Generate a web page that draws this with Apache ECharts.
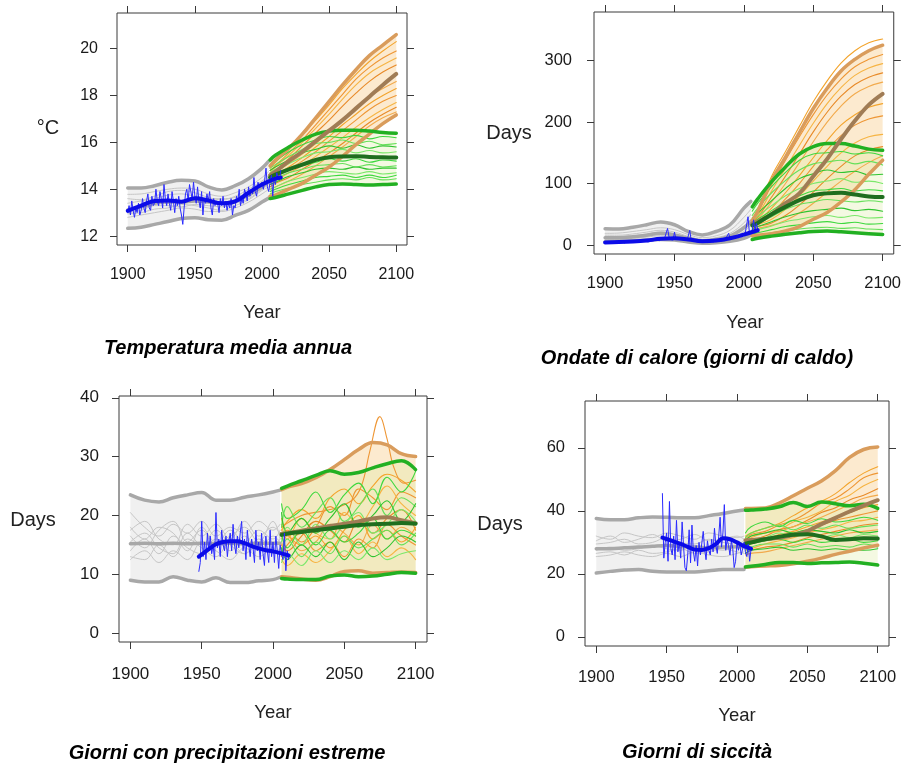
<!DOCTYPE html>
<html>
<head>
<meta charset="utf-8">
<script src="https://cdn.jsdelivr.net/npm/echarts@6/dist/echarts.min.js"></script>
<style>html,body{margin:0;padding:0;background:#fff}#c{width:904px;height:764px}</style>
</head>
<body>
<div id="c"></div>
<script>
// ---------- shared axes ----------
const histYears = [1900,1910,1920,1930,1940,1950,1960,1970,1980,1990,2000,2005];
const projYears = [2006,2010,2020,2030,2040,2050,2060,2070,2080,2090,2100];
const xTicks = [1900,1950,2000,2050,2100];

// ---------- Panel 1: Temperatura media annua (°C) ----------
const tYTicks = [12,14,16,18,20];
const tGreyHi  = [14.05,14.05,14.15,14.3,14.38,14.35,14.1,13.97,14.15,14.45,14.9,15.2];
const tGreyLo  = [12.33,12.38,12.5,12.62,12.75,12.78,12.7,12.68,12.88,13.1,13.45,13.62];
const tGreyMid = [13.12,13.25,13.4,13.45,13.45,13.5,13.45,13.4,13.5,13.75,14.1,14.35];
const tGreyM = [
 [13.78,13.8,13.9,14.0,14.05,14.0,13.8,13.7,13.85,14.1,14.5,14.75],
 [12.8,12.9,13.0,13.1,13.2,13.15,13.05,13.05,13.2,13.45,13.8,14.0],
 [13.4,13.5,13.6,13.75,13.8,13.7,13.6,13.6,13.65,13.9,14.3,14.5],
 [13.0,13.1,13.3,13.3,13.25,13.35,13.3,13.25,13.4,13.6,14.0,14.2],
 [13.6,13.55,13.7,13.9,13.95,13.85,13.65,13.55,13.7,14.0,14.35,14.6],
 [12.95,13.0,13.15,13.2,13.35,13.3,13.2,13.1,13.3,13.55,13.95,14.1]
];
const tObsStart = 1900;
const tObs = [
 13.0,13.3,12.9,13.5,13.1,12.8,13.2,13.0,13.4,12.9,
 13.1,13.6,13.2,13.0,13.5,13.8,13.2,13.1,13.7,13.3,
 13.4,14.0,13.5,13.3,13.9,13.6,13.2,14.2,13.6,13.3,
 13.8,13.4,13.1,13.9,13.5,13.0,13.6,13.3,13.7,13.2,
 12.9,12.5,13.2,13.8,14.0,13.5,14.2,13.9,13.6,14.3,
 13.7,13.4,14.1,13.5,13.2,13.9,12.9,13.6,13.4,13.8,
 13.5,13.9,13.2,12.9,13.6,13.3,13.5,13.4,13.0,13.6,
 13.3,13.7,13.2,13.5,13.1,13.4,13.2,13.6,12.9,13.3,
 13.2,13.7,13.5,14.0,13.3,13.6,13.4,14.0,13.8,13.5,
 14.1,13.7,14.0,13.8,14.5,13.9,13.7,14.3,14.1,14.2,
 14.3,14.0,14.4,14.9,14.1,13.9,14.3,14.6,13.7,14.5,
 14.2,14.7,14.5,14.4,14.8
];
const tObsSmoothYears = [1900,1910,1920,1930,1940,1950,1960,1970,1980,1990,2000,2010,2014];
const tObsSmooth = [13.08,13.3,13.5,13.52,13.47,13.62,13.52,13.4,13.48,13.85,14.2,14.45,14.5];
const tOrHi  = [15.0,15.25,15.75,16.35,17.05,17.75,18.45,19.1,19.7,20.15,20.6];
const tOrMid = [14.6,14.75,15.2,15.6,16.05,16.5,16.95,17.45,17.95,18.45,18.92];
const tOrLo  = [13.7,13.75,14.0,14.25,14.6,14.95,15.4,15.9,16.35,16.8,17.17];
const tOrM = [
 [14.9,15.15,15.7,16.3,16.95,17.6,18.3,18.9,19.45,19.9,20.3],
 [14.8,15.0,15.55,16.1,16.75,17.4,18.05,18.7,19.2,19.6,19.9],
 [14.7,14.95,15.45,16.0,16.6,17.2,17.85,18.45,18.95,19.3,19.6],
 [14.6,14.8,15.3,15.85,16.4,16.95,17.55,18.1,18.6,19.0,19.3],
 [14.5,14.7,15.1,15.5,15.95,16.45,16.95,17.45,17.95,18.3,18.6],
 [14.4,14.6,14.95,15.35,15.8,16.25,16.75,17.2,17.65,18.0,18.3],
 [14.3,14.5,14.85,15.2,15.6,16.05,16.5,16.95,17.4,17.75,18.0],
 [14.2,14.35,14.7,15.0,15.4,15.8,16.2,16.65,17.05,17.4,17.7],
 [14.1,14.25,14.5,14.85,15.2,15.55,15.95,16.4,16.85,17.2,17.5],
 [14.0,14.1,14.35,14.65,15.0,15.4,15.8,16.25,16.7,17.05,17.3]
];
const tGrHi  = [15.25,15.45,15.8,16.1,16.35,16.48,16.52,16.52,16.48,16.42,16.39];
const tGrMid = [14.5,14.62,14.85,15.05,15.25,15.36,15.4,15.41,15.38,15.36,15.35];
const tGrLo  = [13.6,13.65,13.8,13.95,14.1,14.2,14.22,14.2,14.18,14.2,14.22];
const tGrM = [
 [15.0,15.2,15.6,15.9,16.1,16.25,16.2,16.3,16.15,16.25,16.2],
 [14.9,15.05,15.4,15.7,15.95,16.0,16.1,15.95,16.05,15.9,15.95],
 [14.8,14.95,15.25,15.55,15.7,15.85,15.75,15.9,15.75,15.85,15.8],
 [14.7,14.85,15.1,15.35,15.55,15.6,15.7,15.55,15.65,15.55,15.6],
 [14.45,14.6,14.85,15.0,15.15,15.3,15.2,15.3,15.15,15.25,15.2],
 [14.3,14.45,14.7,14.85,15.0,15.05,15.1,14.95,15.05,14.95,15.0],
 [14.2,14.3,14.55,14.7,14.85,14.9,14.85,14.95,14.85,14.9,14.9],
 [14.0,14.1,14.35,14.5,14.65,14.75,14.7,14.65,14.75,14.65,14.7],
 [13.9,14.0,14.2,14.35,14.5,14.55,14.6,14.5,14.6,14.5,14.6],
 [13.8,13.9,14.05,14.2,14.3,14.4,14.45,14.4,14.5,14.4,14.45]
];

// ---------- Panel 2: Ondate di calore (Days) ----------
const hYTicks = [0,100,200,300];
const hGreyHi  = [26.5,26,29,33,37.5,33,22,16.5,22,33,60,71];
const hGreyLo  = [5.4,6,7,8,9,8,5,2.7,3.5,6,11,16];
const hGreyMid = [12,12,13.5,16,19,16.5,11,7,9,14.5,28,38];
const hGreyM = [
 [19,19.5,22,25,28,25,17,12,15,24,45,58],
 [13,13.5,15,18,21,18,11,7,9,15,30,42],
 [9,9.5,11,13,15,13,8,5,6,11,22,32],
 [16,16,18,21,24,21,14,9,12,19,36,50]
];
const hObsStart = 1900;
const hObs = [
 4,5,3,6,4,5,3,4,6,4,
 5,4,6,5,3,7,5,4,6,5,
 6,5,7,4,6,8,5,6,9,6,
 7,5,8,6,9,7,6,10,8,7,
 9,11,8,12,10,27,14,9,12,8,
 21,10,11,9,13,10,8,12,9,7,
 9,24,8,6,10,7,5,8,6,5,
 7,5,6,8,4,7,6,9,5,7,
 8,6,9,7,10,8,7,11,9,19,
 12,10,14,11,15,13,12,17,15,18,
 16,20,22,46,19,21,23,41,24,35,
 26
];
const hObsSmoothYears = [1900,1910,1920,1930,1940,1950,1960,1970,1980,1990,2000,2010];
const hObsSmooth = [4.3,4.8,5.8,7.5,10.2,11,9,6.2,7.2,11,17,24];
const hOrHi  = [40,55,105,143,183,222,255,283,302,316,325];
const hOrMid = [35,38,50,68,84,112,140,172,202,228,246];
const hOrLo  = [15,16,18.5,23,30,42,53,70,90,115,138];
const hOrM = [
 [42,58,112,152,193,233,267,296,316,329,335],
 [40,52,98,138,176,212,244,270,290,302,310],
 [38,48,88,125,162,198,230,256,276,288,295],
 [37,45,78,112,148,184,216,242,261,273,280],
 [36,42,70,100,134,168,200,226,246,258,265],
 [34,38,60,85,113,142,170,195,212,224,230],
 [33,36,52,75,100,128,155,178,195,205,210],
 [30,33,42,58,80,104,128,150,166,176,180],
 [28,30,36,48,65,86,108,128,145,155,160],
 [25,27,32,40,52,68,86,104,120,134,145]
];
const hGrHi  = [62,75,103,127,148,160,165,165,161,156,154];
const hGrMid = [32,36,50,62,73,81,84,85,82,79,78];
const hGrLo  = [9,11,14.5,17.5,20,22,22.7,21.5,20,18.5,17.3];
const hGrM = [
 [55,68,95,118,138,148,150,152,148,150,145],
 [48,60,85,105,122,132,135,138,132,136,130],
 [44,52,72,92,108,116,122,118,120,114,115],
 [40,47,64,80,92,100,104,108,102,104,100],
 [36,42,56,70,80,88,90,92,88,90,88],
 [30,35,46,58,66,70,74,72,70,72,70],
 [26,30,38,46,52,56,58,60,56,58,55],
 [22,25,31,38,42,46,48,45,48,44,45],
 [18,20,25,30,33,36,38,35,37,34,35],
 [14,16,20,23,26,28,29,27,28,26,25]
];

// ---------- Panel 3: Giorni con precipitazioni estreme (Days) ----------
const pYTicks = [0,10,20,30,40];
const pGreyHi  = [23.5,22.6,22.3,23.0,23.5,23.9,22.6,22.6,23.1,23.5,24.0,24.3];
const pGreyLo  = [9.0,8.7,8.7,9.6,9.0,8.7,9.4,8.6,8.6,8.9,9.1,9.5];
const pGreyMid = [15.2,15.3,15.2,15.3,15.2,15.3,15.2,15.3,15.2,15.3,15.3,15.3];
const pGreyM = [
 [20.5,18,16.5,18.5,17,19,16.5,18,17,19,17.5,18.5],
 [17.5,19,16,15,18.5,16.5,18.5,16,19,16.5,18,17],
 [16.5,14.5,17.5,19,15.5,17.5,15,17.5,15.5,17.5,16,17.5],
 [14,16,13.5,16.5,14.5,13.5,16,14,16.5,14,16.5,15.5],
 [13,12.5,15,13,16,14.5,13,15.5,13.5,15,13.5,14.5],
 [12.5,14,12,14,12.5,15.5,14,12.5,14.5,13,14.5,13],
 [15.5,17,14.5,13.5,17,15,17.5,15,13.5,16,15,16],
 [18,16,18,17,14,18,15.5,16.5,18,15.5,19,16]
];
const pObsStart = 1948;
const pObs = [
 10.5,12.0,19.0,13.0,15.5,12.5,17.0,14.0,16.5,13.5,
 15.0,12.5,20.5,14.5,16.0,13.0,17.5,15.0,14.0,16.5,
 13.0,15.5,17.0,14.0,18.5,15.0,13.5,16.5,14.5,17.0,
 19.0,14.0,16.0,12.5,17.5,15.0,13.0,16.0,14.5,12.0,
 17.5,14.0,15.5,12.5,17.0,13.5,11.5,16.5,14.0,12.0,
 17.5,13.0,15.5,12.0,16.5,14.0,11.0,15.0,13.5,12.5,
 17.0,10.6,14.0,12.5
];
const pObsSmoothYears = [1948,1955,1960,1965,1970,1975,1980,1985,1990,1995,2000,2005,2011];
const pObsSmooth = [13.0,14.3,15.1,15.5,15.6,15.6,15.3,14.8,14.4,14.1,13.9,13.6,13.2];
const pOrHi  = [24.4,24.8,25.4,26.4,27.8,29.5,31.2,32.4,32.0,30.5,30.0];
const pOrMid = [16.9,17.0,17.4,17.8,18.2,18.6,19.0,19.5,19.7,19.2,18.7];
const pOrLo  = [9.6,9.5,9.2,9.0,9.6,10.5,10.6,10.2,10.3,10.4,10.3];
const pOrM = [
 [17.5,19,21,19.5,23,24.5,22,25,27,26,24],
 [16,17.5,15.5,18,21.5,20,24.5,23,21,24,23],
 [18.5,16,19.5,17,16,20.5,18.5,21.5,25,22,20],
 [15,14,16.5,19,17.5,15.5,19,17,19.5,21,17.5],
 [14,16.5,14,15.5,18.5,17,15,18.5,16,18,16.5],
 [19.5,17,15,16.5,14.5,17.5,20,16,17.5,15.5,18],
 [13,15,17,14,15.5,13,16,14.5,18.5,16.5,15],
 [12.5,11.5,13.5,12,14,16.5,13.5,15.5,13,14.5,12.5]
];
const pOrSpikeYears = [2006,2020,2040,2055,2062,2068,2075,2080,2085,2092,2100];
const pOrSpike = [18,20,21,22.5,25,31,36.8,33,28,25.5,26];
const pGrHi  = [24.6,25.0,25.9,26.8,27.6,27.0,27.3,28.1,28.8,29.3,27.8];
const pGrMid = [16.7,16.9,17.2,17.5,17.8,18.1,18.4,18.5,18.6,18.7,18.6];
const pGrLo  = [9.3,9.2,9.1,9.1,9.7,9.9,9.6,9.7,10.0,10.3,10.2];
const pGrM = [
 [22,19.5,21,24,20.5,23.5,25.5,22,26.5,24,27.5],
 [18,21.5,18,20.5,23,19,21.5,24.5,20,23,21.5],
 [20.5,17,19.5,17,19.5,22,18,20,22.5,19,22],
 [15.5,18,15,18.5,16,18.5,20.5,17,18.5,21,19],
 [17,14.5,17.5,15,17.5,15.5,17,19.5,16,17.5,16.5],
 [13.5,16,13,15.5,13.5,16.5,14.5,16,17.5,15,17],
 [14.5,12.5,15,13,15.5,12.5,15.5,13,14.5,16.5,15.5],
 [12,13.5,11.5,14,12,14,12.5,14.5,12.5,13.5,14]
];

// ---------- Panel 4: Giorni di siccità (Days) ----------
const dYTicks = [0,20,40,60];
const dGreyHi  = [37.6,37.2,37.2,37.8,38.1,38.0,37.8,37.8,38.5,39.2,40.0,40.3];
const dGreyLo  = [20.3,20.8,21.2,21.4,20.8,20.6,20.6,20.6,21.0,21.4,21.4,21.4];
const dGreyMid = [28.0,28.0,28.3,28.5,28.8,29.0,28.7,28.5,28.3,28.5,28.6,28.7];
const dGreyM = [
 [32,31,33,32,31.5,33,32,31,33,32,31.5,32],
 [30.5,32,30,31,32.5,30.5,31,32.5,30.5,31,32,31],
 [29.5,30,31,29.5,30,31.5,30,29.5,31,30,29.5,30.5],
 [26.5,27,26,27.5,26.5,27,28,26.5,27,28,27,26.5],
 [25.5,26,27,26,25.5,26.5,25.5,27,26,25.5,26.5,27],
 [27.5,28.5,27.5,28,29,28,27.5,29,28.5,27.5,28.5,28]
];
const dObsStart = 1947;
const dObs = [
 45.5,25.0,30.0,33.0,24.0,43.0,28.0,26.0,32.0,24.5,
 37.0,27.0,30.0,25.0,36.5,29.0,22.0,21.0,26.0,34.0,
 23.5,35.5,27.0,24.0,29.0,22.5,30.0,26.0,25.5,33.5,
 28.0,24.5,30.5,27.5,26.0,31.0,27.0,34.5,29.0,26.5,
 32.0,38.0,28.5,33.0,42.0,27.5,31.0,29.0,26.0,30.5,
 28.0,22.0,24.0,30.0,27.5,29.5,26.0,28.0,30.0,27.0,
 25.5,29.5,24.0,28.0
];
const dObsSmoothYears = [1947,1955,1960,1965,1970,1975,1980,1985,1990,1995,2000,2005,2010];
const dObsSmooth = [31.5,30.3,29.5,28.6,27.7,27.6,28.2,29.5,31.3,31.0,30.0,28.8,28.0];
const dOrHi  = [40.8,40.8,40.9,42.5,44.8,47.2,49.5,52.8,57.0,59.5,60.3];
const dOrMid = [30.7,30.8,31.1,31.5,32.3,33.6,35.8,37.8,39.8,41.7,43.4];
const dOrLo  = [22.2,22.3,22.5,22.7,23.2,24.0,25.0,26.2,27.2,28.2,29.1];
const dOrM = [
 [32,33,34.5,36,38.5,41,43,45.5,49,52,54],
 [31,32.5,33.5,35.5,37,39.5,42.5,44,47,50.5,52],
 [30,31.5,33,34,36.5,38,40,43,45,48,50],
 [29.5,30.5,32,34,35,37,39.5,41,43.5,45,47],
 [31,32,33,33.5,35,36.5,38,40,42,44,45],
 [28.5,29.5,31,32.5,33.5,35,36.5,38,39.5,41,42],
 [29,30,30.5,32,33,34,35.5,37,38,39,40],
 [27.5,28,29.5,30.5,31.5,33,34,35,36.5,37,38],
 [26.5,27.5,28.5,29,30,31.5,32.5,33.5,34.5,35.5,36],
 [26,26.5,27,28,29,30,31,32,33,33.5,34]
];
const dGrHi  = [40.2,40.3,40.6,41.3,42.7,41.4,42.8,42.3,41.6,42.1,40.8];
const dGrMid = [29.6,30.0,31.0,31.8,32.4,32.6,31.9,30.8,31.0,31.3,31.2];
const dGrLo  = [22.2,22.4,23.0,23.6,23.6,23.3,23.5,23.6,23.8,23.4,22.8];
const dGrM = [
 [33,35,36.5,35,37,36,37.5,36.5,37,38,37],
 [31.5,33,34.5,35.5,34,35.5,34.5,35.5,34.5,35,35.5],
 [30.5,32,33,34,33,34,33.5,33,34,33,33.5],
 [29.5,31,31.5,33,32,32.5,31.5,32.5,31.5,32.5,32],
 [28.5,29.5,30.5,31,30,31,30,30.5,31,30,30.5],
 [27.5,28.5,29.5,29.5,28.5,29.5,28.5,29,28.5,29.5,28.5],
 [26.5,27.5,28,28.5,27.5,28,27.5,28,27.5,27.5,28]
];

// ---------- text ----------
const captions = ['Temperatura media annua','Ondate di calore (giorni di caldo)','Giorni con precipitazioni estreme','Giorni di siccità'];
const yNames = ['°C','Days','Days','Days'];
const xName = 'Year';

// ---------- layout & style (not data) ----------
const layouts = [
 {left:117, top:13,  width:290, height:232, ymin:11.62, ymax:21.52, font:16,   xm:21.5, ym:19,
  yName:[48,128],  xNameP:[262,313], cap:[228,348]},
 {left:594, top:12,  width:302, height:242, ymin:-14.6, ymax:379,  font:16.5, xm:20.5, ym:22,
  yName:[509,133], xNameP:[745,323], cap:[697,358]},
 {left:119, top:396, width:308, height:246, ymin:-1.5,  ymax:40.3, font:17,   xm:23.5, ym:20,
  yName:[33,520],  xNameP:[273,713], cap:[227,753]},
 {left:585, top:401, width:304, height:245, ymin:-2.9,  ymax:74.9, font:16.5, xm:22.5, ym:20,
  yName:[500,524], xNameP:[737,716], cap:[697,752]}
];
const panels = [
 {yt:tYTicks, gHi:tGreyHi, gLo:tGreyLo, gMid:tGreyMid, gM:tGreyM, oS:tObsStart, o:tObs, osY:tObsSmoothYears, os:tObsSmooth,
  orHi:tOrHi, orMid:tOrMid, orLo:tOrLo, orM:tOrM, grHi:tGrHi, grMid:tGrMid, grLo:tGrLo, grM:tGrM},
 {yt:hYTicks, gHi:hGreyHi, gLo:hGreyLo, gMid:hGreyMid, gM:hGreyM, oS:hObsStart, o:hObs, osY:hObsSmoothYears, os:hObsSmooth,
  orHi:hOrHi, orMid:hOrMid, orLo:hOrLo, orM:hOrM, grHi:hGrHi, grMid:hGrMid, grLo:hGrLo, grM:hGrM},
 {yt:pYTicks, gHi:pGreyHi, gLo:pGreyLo, gMid:pGreyMid, gM:pGreyM, oS:pObsStart, o:pObs, osY:pObsSmoothYears, os:pObsSmooth,
  orHi:pOrHi, orMid:pOrMid, orLo:pOrLo, orM:pOrM, grHi:pGrHi, grMid:pGrMid, grLo:pGrLo, grM:pGrM,
  extraOr:[[pOrSpikeYears, pOrSpike]]},
 {yt:dYTicks, gHi:dGreyHi, gLo:dGreyLo, gMid:dGreyMid, gM:dGreyM, oS:dObsStart, o:dObs, osY:dObsSmoothYears, os:dObsSmooth,
  orHi:dOrHi, orMid:dOrMid, orLo:dOrLo, orM:dOrM, grHi:dGrHi, grMid:dGrMid, grLo:dGrLo, grM:dGrM}
];

const C = {
  greyThin:'#c6c6c6', greyThick:'#a8a8a8', greyFill:'rgba(225,225,225,0.5)',
  obsThin:'#2a2aff', obsThick:'#0b0be8',
  orThin:['#f3a42c','#ee9634','#f6b443','#e88a28','#f2aa4c'], orBound:'#d99c5c', orMid:'#a07c55',
  orFill:'rgba(246,196,122,0.36)',
  grThin:['#3ed83e','#66e05a','#2fc42f','#7be86a'], grBound:'#22b022', grMid:'#1f6e1f',
  grFill:'rgba(215,235,150,0.28)'
};
const FONT = '"Liberation Sans", Arial, Helvetica, sans-serif';

function pairs(xs, ys){ return ys.map((v,i)=>[xs[i], v]); }
function seq(start, n){ const a=[]; for(let i=0;i<n;i++) a.push(start+i); return a; }
function plain(v){ return String(v); }

const grids=[], xAxes=[], yAxes=[], series=[], graphics=[];

function line(k, xs, ys, color, width, z, smooth){
  series.push({type:'line', xAxisIndex:2*k, yAxisIndex:2*k, data:pairs(xs,ys), symbol:'none',
    smooth: smooth===undefined?0.4:smooth, lineStyle:{color:color, width:width, cap:'round', join:'round'},
    z:z, silent:true, animation:false});
}
function band(k, xs, lo, hi, color){
  series.push({type:'custom', coordinateSystem:'cartesian2d', xAxisIndex:2*k, yAxisIndex:2*k,
    data:[[xs[0], lo[0]]], z:1, silent:true, animation:false,
    renderItem:function(params, api){
      const pts=[];
      for(let i=0;i<xs.length;i++) pts.push(api.coord([xs[i], hi[i]]));
      for(let i=xs.length-1;i>=0;i--) pts.push(api.coord([xs[i], lo[i]]));
      return {type:'polygon', shape:{points:pts}, style:{fill:color}};
    }});
}

panels.forEach((p,k)=>{
  const L = layouts[k];
  grids.push({left:L.left, top:L.top, width:L.width, height:L.height, show:true,
    borderColor:'#3a3a3a', borderWidth:1, backgroundColor:'transparent', containLabel:false});
  const tick = {show:true, length:7, inside:false, lineStyle:{color:'#3a3a3a', width:1}};
  const lbl = {color:'#1a1a1a', fontFamily:FONT, fontSize:L.font, formatter:plain};
  const noLine = {show:false, onZero:false};
  xAxes.push({gridIndex:k, type:'value', position:'bottom', min:1892, max:2108,
    axisLine:noLine, splitLine:{show:false},
    axisTick:Object.assign({customValues:xTicks}, tick),
    axisLabel:Object.assign({customValues:xTicks, margin:L.xm}, lbl)});
  xAxes.push({gridIndex:k, type:'value', position:'top', min:1892, max:2108,
    axisLine:noLine, splitLine:{show:false},
    axisTick:Object.assign({customValues:xTicks}, tick), axisLabel:{show:false}});
  yAxes.push({gridIndex:k, type:'value', position:'left', min:L.ymin, max:L.ymax,
    axisLine:noLine, splitLine:{show:false},
    axisTick:Object.assign({customValues:p.yt}, tick),
    axisLabel:Object.assign({customValues:p.yt, margin:L.ym}, lbl)});
  yAxes.push({gridIndex:k, type:'value', position:'right', min:L.ymin, max:L.ymax,
    axisLine:noLine, splitLine:{show:false},
    axisTick:Object.assign({customValues:p.yt}, tick), axisLabel:{show:false}});

  // fills
  band(k, histYears, p.gLo, p.gHi, C.greyFill);
  band(k, projYears, p.orLo, p.orHi, C.orFill);
  band(k, projYears, p.grLo, p.grHi, C.grFill);
  // historical ensemble
  p.gM.forEach(m=>line(k, histYears, m, C.greyThin, 1, 2));
  line(k, histYears, p.gHi, C.greyThick, 3.5, 3);
  line(k, histYears, p.gLo, C.greyThick, 3.5, 3);
  line(k, histYears, p.gMid, C.greyThick, 3.5, 3);
  // projections
  p.orM.forEach((m,i)=>line(k, projYears, m, C.orThin[i%C.orThin.length], 1.1, 4));
  (p.extraOr||[]).forEach((e,i)=>line(k, e[0], e[1], C.orThin[1], 1.1, 4));
  p.grM.forEach((m,i)=>line(k, projYears, m, C.grThin[i%C.grThin.length], 1.1, 4));
  line(k, projYears, p.orHi, C.orBound, 3.5, 5);
  line(k, projYears, p.orLo, C.orBound, 3.5, 5);
  line(k, projYears, p.grHi, C.grBound, 3.5, 5);
  line(k, projYears, p.grLo, C.grBound, 3.5, 5);
  line(k, projYears, p.orMid, C.orMid, 4, 6);
  line(k, projYears, p.grMid, C.grMid, 4, 6);
  // observations
  line(k, seq(p.oS, p.o.length), p.o, C.obsThin, 1, 7, false);
  line(k, p.osY, p.os, C.obsThick, 4, 8);

  graphics.push({type:'text', x:L.yName[0], y:L.yName[1], silent:true,
    style:{text:yNames[k], font:'20px '+FONT, fill:'#222', align:'center', verticalAlign:'middle'}});
  graphics.push({type:'text', x:L.xNameP[0], y:L.xNameP[1], silent:true,
    style:{text:xName, font:'18.5px '+FONT, fill:'#222', align:'center', verticalAlign:'middle'}});
  graphics.push({type:'text', x:L.cap[0], y:L.cap[1], silent:true,
    style:{text:captions[k], font:'italic bold 20px '+FONT, fill:'#000', align:'center', verticalAlign:'middle'}});
});

const chart = echarts.init(document.getElementById('c'), null, {renderer:'canvas'});
chart.setOption({
  animation:false, backgroundColor:'#fff',
  grid:grids, xAxis:xAxes, yAxis:yAxes, series:series, graphic:graphics
});
</script>
</body>
</html>
